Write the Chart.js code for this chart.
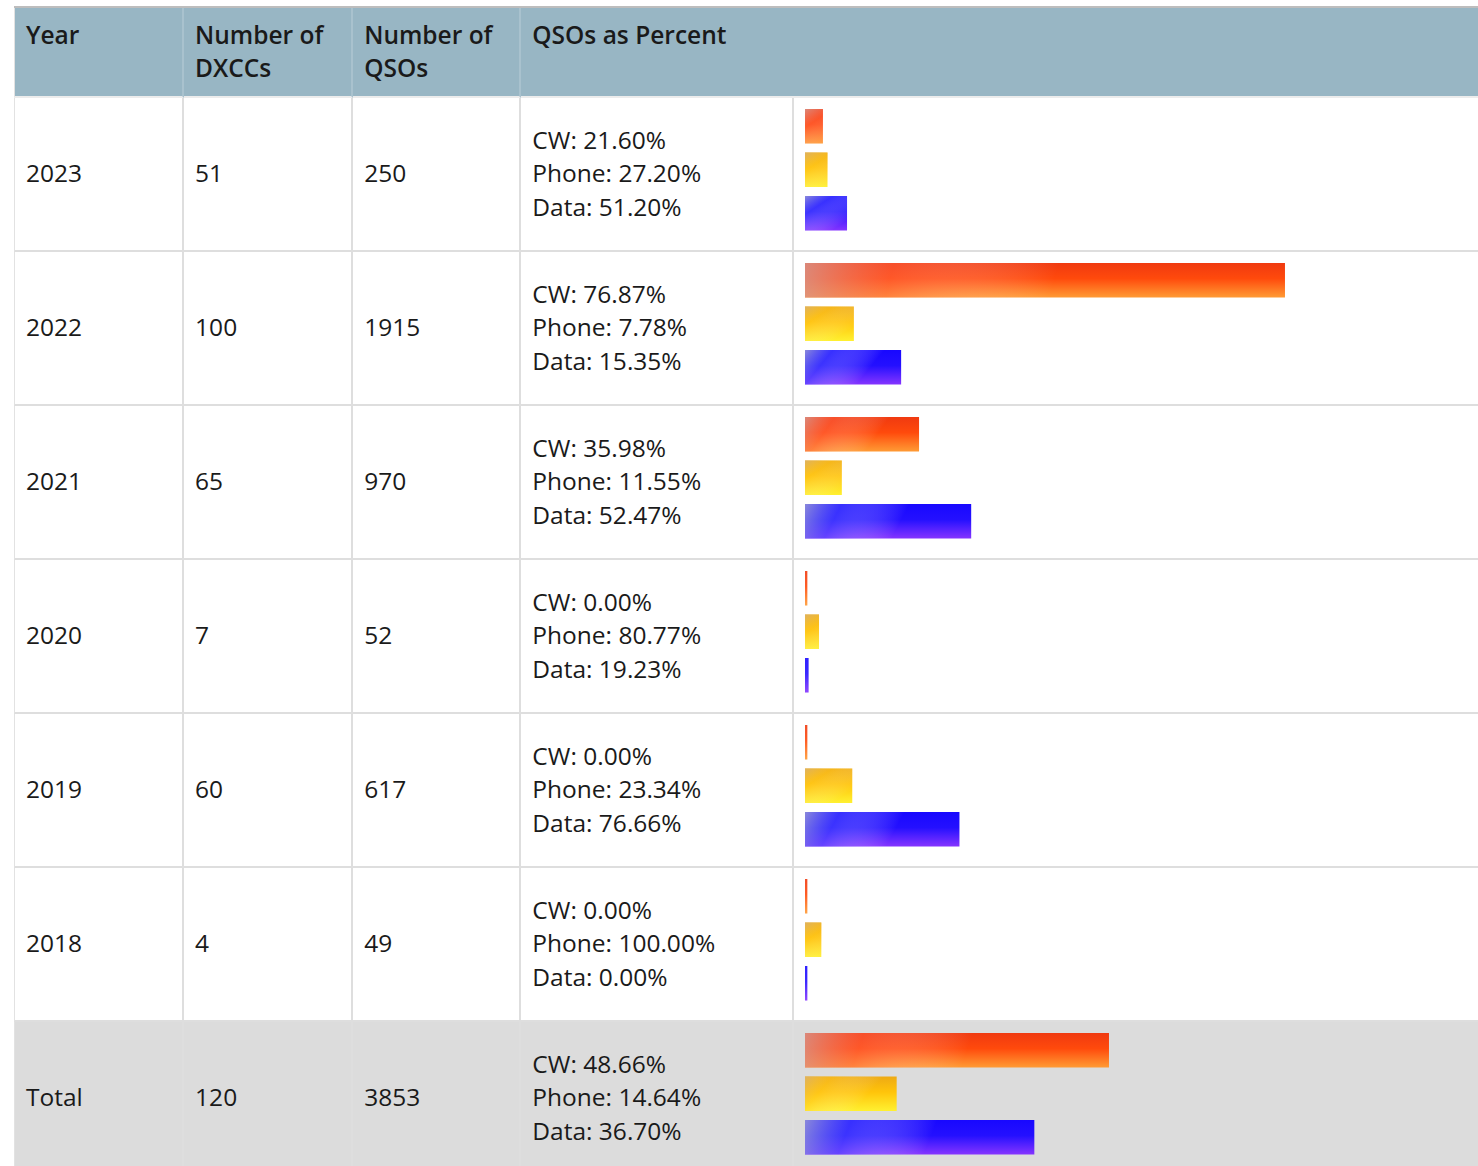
<!DOCTYPE html>
<html>
<head>
<meta charset="utf-8">
<script src="https://cdn.jsdelivr.net/npm/chart.js@4"></script>
<style>
  * { box-sizing: border-box; }
  body { margin: 0; background: #fff; font-family: "Open Sans", sans-serif; color: #1a1a1a; overflow: hidden; }
  table { position: absolute; left: 14px; top: 6px; width: 1480px; border-collapse: separate; border-spacing: 0; table-layout: fixed; border-top: 2px solid #bdbdbd; font-size: 24.5px; }
  th { background: #98b6c4; height: 90px; padding: 10px 11px 0 11px; text-align: left; vertical-align: top; font-weight: 600; line-height: 33px; border-right: 2px solid #a9c2ce; border-bottom: 2px solid #ececec; }
  td { height: 154px; padding: 0 11px 2px 11px; vertical-align: middle; line-height: 33.5px; border-right: 2px solid #dedede; border-bottom: 2px solid #dedede; }
  th:first-child, td:first-child { border-left: 1px solid #e2e2e2; }
  td.bars { padding: 0; vertical-align: top; border-right: none; }
  tr.total td { background: #dcdcdc; }
  canvas { display: block; }
</style>
</head>
<body>
<table id="qsoTable">
  <colgroup>
    <col style="width:170px"><col style="width:169px"><col style="width:168px"><col style="width:272px"><col style="width:700px">
  </colgroup>
  <thead>
    <tr><th>Year</th><th>Number of DXCCs</th><th>Number of QSOs</th><th colspan="2">QSOs as Percent</th></tr>
  </thead>
  <tbody></tbody>
</table>
<script>
// table values
const years = ["2023", "2022", "2021", "2020", "2019", "2018", "Total"];
const dxccs = [51, 100, 65, 7, 60, 4, 120];
const qsos = [250, 1915, 970, 52, 617, 49, 3853];
const cwPct = ["21.60%", "76.87%", "35.98%", "0.00%", "0.00%", "0.00%", "48.66%"];
const phonePct = ["27.20%", "7.78%", "11.55%", "80.77%", "23.34%", "100.00%", "14.64%"];
const dataPct = ["51.20%", "15.35%", "52.47%", "19.23%", "76.66%", "0.00%", "36.70%"];

// bar lengths (QSO counts per mode)
const modes = ["CW", "Phone", "Data"];
const cwCount = [54, 1472, 349, 0, 0, 0, 1875];
const phoneCount = [68, 149, 112, 42, 144, 49, 564];
const dataCount = [128, 294, 509, 10, 473, 0, 1414];
// full bar width = largest QSO total of the group
const yearMax = 1915;
const totalMax = 3853;

const modeColors = [
  { top: "#f03a10", mid: "#ff4a0c", bottom: "#ff9a34",
    wash: ["rgba(215,150,140,0.85)", "rgba(255,105,75,0.45)"] },
  { top: "#eeaa14", mid: "#ffc40a", bottom: "#fff030",
    wash: ["rgba(220,180,110,0.85)", "rgba(255,200,40,0.4)"] },
  { top: "#1808ff", mid: "#2410ff", bottom: "#8434ff",
    wash: ["rgba(150,150,215,0.9)", "rgba(80,80,255,0.55)"] }
];

function baseFill(ctx) {
  const c = modeColors[ctx.dataIndex];
  const chart = ctx.chart;
  if (!chart.chartArea || !chart.scales.y) return c.mid;
  const yc = chart.scales.y.getPixelForValue(ctx.dataIndex);
  const g = chart.ctx.createLinearGradient(0, yc - 17, 0, yc + 17);
  g.addColorStop(0, c.top);
  g.addColorStop(0.45, c.mid);
  g.addColorStop(1, c.bottom);
  return g;
}

function washFill(ctx) {
  const c = modeColors[ctx.dataIndex];
  const chart = ctx.chart;
  if (!chart.chartArea || !chart.scales.x) return "rgba(0,0,0,0)";
  const xs = chart.scales.x;
  const x0 = xs.getPixelForValue(0);
  const w = xs.getPixelForValue(ctx.raw) - x0;
  if (w < 4) return "rgba(255,255,255,0.1)";
  const yc = chart.scales.y.getPixelForValue(ctx.dataIndex);
  const len = Math.max(w * 0.5, 24);
  const g = chart.ctx.createLinearGradient(x0, yc - 17, x0 + len, yc + 17 + len * 0.1);
  g.addColorStop(0, c.wash[0]);
  g.addColorStop(0.35, c.wash[1]);
  g.addColorStop(1, "rgba(255,255,255,0)");
  return g;
}

function buildRow(i) {
  const tr = document.createElement("tr");
  if (years[i] === "Total") tr.className = "total";
  tr.innerHTML =
    "<td>" + years[i] + "</td>" +
    "<td>" + dxccs[i] + "</td>" +
    "<td>" + qsos[i] + "</td>" +
    "<td>CW: " + cwPct[i] + "<br>Phone: " + phonePct[i] + "<br>Data: " + dataPct[i] + "</td>" +
    "<td class=\"bars\"><canvas width=\"700\" height=\"150\"></canvas></td>";
  document.querySelector("#qsoTable tbody").appendChild(tr);

  const values = [cwCount[i], phoneCount[i], dataCount[i]];
  new Chart(tr.querySelector("canvas"), {
    type: "bar",
    data: {
      labels: modes,
      datasets: [
        { data: values, backgroundColor: baseFill, barThickness: 34, minBarLength: 2, grouped: false, order: 2 },
        { data: values, backgroundColor: washFill, barThickness: 34, minBarLength: 2, grouped: false, order: 1 }
      ]
    },
    options: {
      indexAxis: "y",
      responsive: false,
      animation: false,
      events: [],
      layout: { padding: { left: 11, right: 65, top: 6.5, bottom: 13 } },
      plugins: { legend: { display: false }, tooltip: { enabled: false } },
      scales: {
        x: { display: false, min: 0, max: years[i] === "Total" ? totalMax : yearMax },
        y: { display: false }
      }
    }
  });
}

years.forEach(function(_, i) { buildRow(i); });
</script>
</body>
</html>
